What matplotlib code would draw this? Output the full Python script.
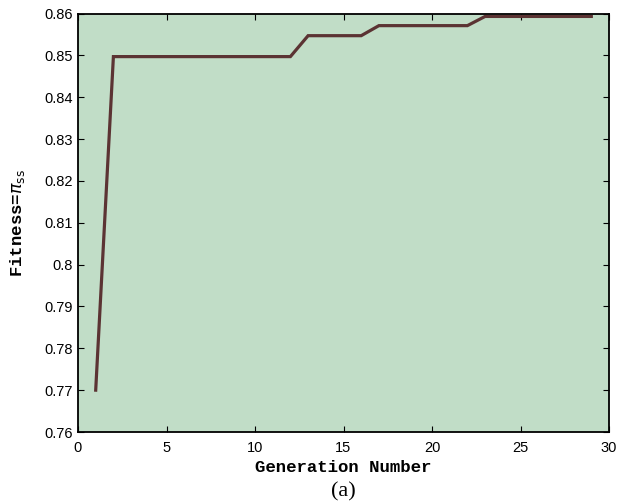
import matplotlib
matplotlib.use("Agg")
import matplotlib.pyplot as plt

generations = [1, 2, 12, 13, 16, 17, 22, 23, 29]
fitness = [0.770, 0.8497, 0.8497, 0.8547, 0.8547, 0.8571, 0.8571, 0.8593, 0.8593]
xticks = [0, 5, 10, 15, 20, 25, 30]
yticks = [0.76, 0.77, 0.78, 0.79, 0.80, 0.81, 0.82, 0.83, 0.84, 0.85, 0.86]
ytick_labels = ["0.76", "0.77", "0.78", "0.79", "0.8", "0.81", "0.82", "0.83", "0.84", "0.85", "0.86"]

plt.rcParams['font.family'] = ['Liberation Sans', 'DejaVu Sans']

W, H = 626, 503
L, R, T, B = 78, 609, 13.5, 432
fig = plt.figure(figsize=(W/100, H/100), dpi=100)
ax = fig.add_axes([L/W, 1-B/H, (R-L)/W, (B-T)/H])
ax.set_facecolor('#c1ddc7')
ax.plot(generations, fitness, color='#5b3333', lw=2.3, solid_joinstyle='miter')
ax.set_xlim(0, 30)
ax.set_ylim(0.76, 0.86)
ax.set_xticks(xticks)
ax.set_yticks(yticks)
ax.set_yticklabels(ytick_labels)
ax.tick_params(direction='in', top=True, right=True, labelsize=10.5, length=4, width=0.8, pad=4)
ax.tick_params(axis='x', pad=6.5)
for s in ax.spines.values():
    s.set_linewidth(1.3)
ax.set_xlabel('Generation Number', family='Liberation Mono', fontweight='bold', fontsize=12.5, va='center')
ax.xaxis.set_label_coords(0.5, (B-468)/(B-T))
ax.set_ylabel(r'Fitness=$\pi_{\mathsf{ss}}$', family='Liberation Mono', fontweight='bold', fontsize=12.5, va='center')
ax.yaxis.set_label_coords((18-L)/(R-L), 0.5)
fig.text((L + R) / 2 / W, 1 - 492/H, '(a)', family='Liberation Serif', fontsize=16, ha='center', va='center')
fig.savefig('out.png', dpi=100)
